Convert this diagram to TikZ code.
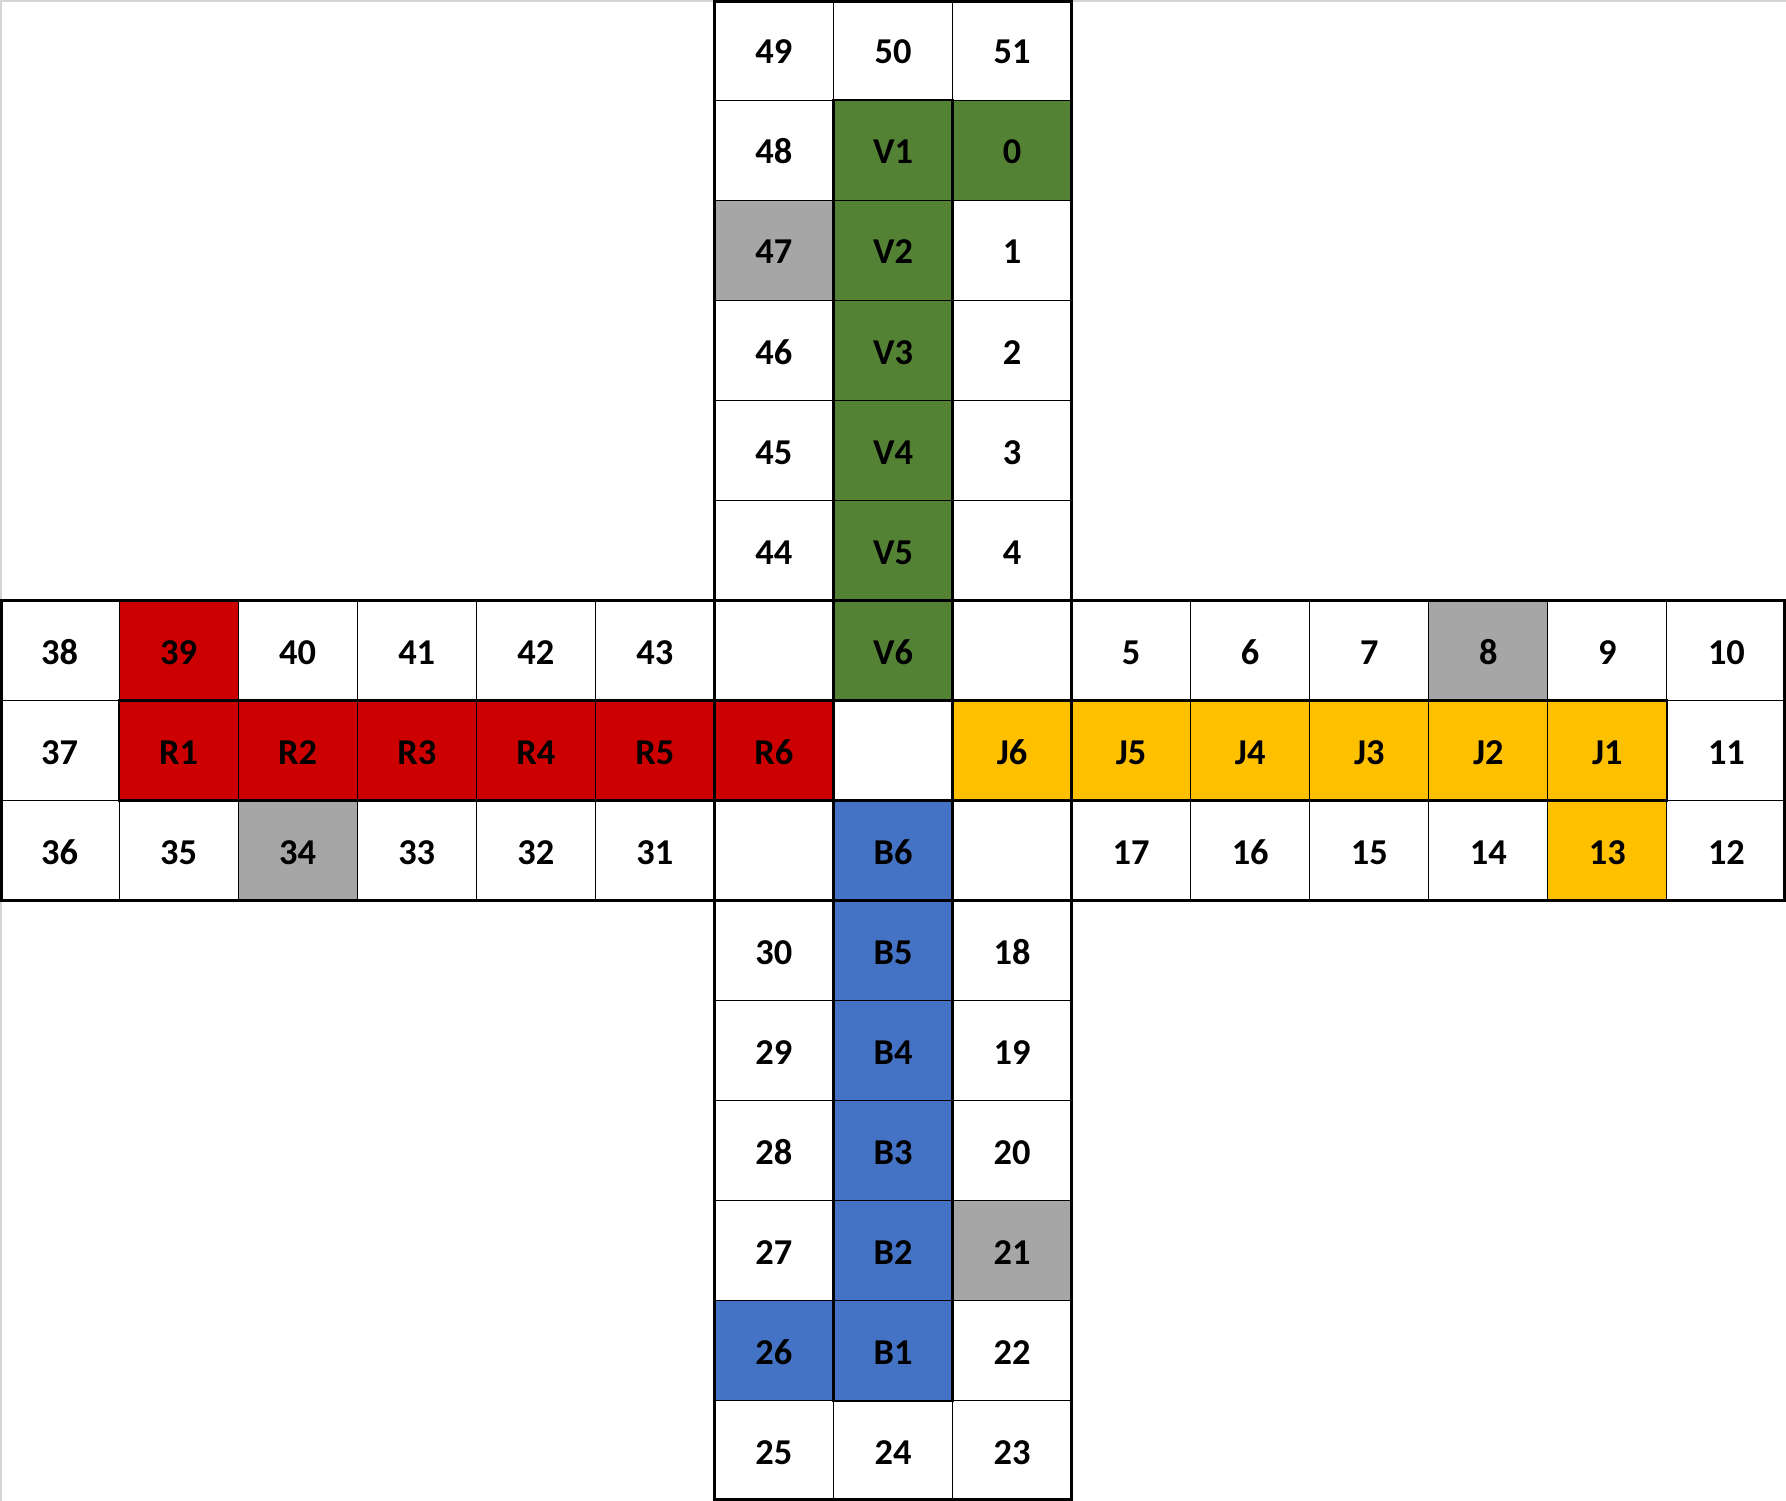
\documentclass[tikz,border=0pt]{standalone}
\usepackage{fontspec}
\setmainfont{Carlito}
\definecolor{vgreen}{HTML}{548235}
\definecolor{rred}{HTML}{CC0000}
\definecolor{jyellow}{HTML}{FFC000}
\definecolor{bblue}{HTML}{4472C4}
\definecolor{sgray}{HTML}{A6A6A6}
\definecolor{framegray}{HTML}{D4D4D4}
\newcommand{\lc}[4]{\node[cell,#3] (n#1-#2) at ({#2+0.5},{#1+0.5}) {#4};}
\begin{document}
\begin{tikzpicture}[x=59.533pt,y=-50.033pt,
  cell/.style={draw=black,line width=0.5pt,minimum width=59.533pt,minimum height=50.033pt,
    inner sep=0pt,outer sep=0pt,anchor=center,text height=13.8pt,text depth=0pt,
    font=\fontsize{18.2}{21}\selectfont\bfseries},
  wh/.style={fill=white},
  gn/.style={fill=vgreen},
  rd/.style={fill=rred},
  yl/.style={fill=jyellow},
  bl/.style={fill=bblue},
  gy/.style={fill=sgray},
  boldline/.style={draw=black,line width=1.4pt,line cap=rect}]
\useasboundingbox (0,0) rectangle (15,15);
\fill[white] (0,0) rectangle (15,15);
% top arm
\lc{0}{6}{wh}{49}\lc{0}{7}{wh}{50}\lc{0}{8}{wh}{51}
\lc{1}{6}{wh}{48}\lc{1}{7}{gn}{V1}\lc{1}{8}{gn}{0}
\lc{2}{6}{gy}{47}\lc{2}{7}{gn}{V2}\lc{2}{8}{wh}{1}
\lc{3}{6}{wh}{46}\lc{3}{7}{gn}{V3}\lc{3}{8}{wh}{2}
\lc{4}{6}{wh}{45}\lc{4}{7}{gn}{V4}\lc{4}{8}{wh}{3}
\lc{5}{6}{wh}{44}\lc{5}{7}{gn}{V5}\lc{5}{8}{wh}{4}
% row 6
\lc{6}{0}{wh}{38}\lc{6}{1}{rd}{39}\lc{6}{2}{wh}{40}\lc{6}{3}{wh}{41}\lc{6}{4}{wh}{42}\lc{6}{5}{wh}{43}
\lc{6}{6}{wh}{}\lc{6}{7}{gn}{V6}\lc{6}{8}{wh}{}
\lc{6}{9}{wh}{5}\lc{6}{10}{wh}{6}\lc{6}{11}{wh}{7}\lc{6}{12}{gy}{8}\lc{6}{13}{wh}{9}\lc{6}{14}{wh}{10}
% row 7
\lc{7}{0}{wh}{37}\lc{7}{1}{rd}{R1}\lc{7}{2}{rd}{R2}\lc{7}{3}{rd}{R3}\lc{7}{4}{rd}{R4}\lc{7}{5}{rd}{R5}\lc{7}{6}{rd}{R6}
\lc{7}{7}{wh}{}
\lc{7}{8}{yl}{J6}\lc{7}{9}{yl}{J5}\lc{7}{10}{yl}{J4}\lc{7}{11}{yl}{J3}\lc{7}{12}{yl}{J2}\lc{7}{13}{yl}{J1}\lc{7}{14}{wh}{11}
% row 8
\lc{8}{0}{wh}{36}\lc{8}{1}{wh}{35}\lc{8}{2}{gy}{34}\lc{8}{3}{wh}{33}\lc{8}{4}{wh}{32}\lc{8}{5}{wh}{31}
\lc{8}{6}{wh}{}\lc{8}{7}{bl}{B6}\lc{8}{8}{wh}{}
\lc{8}{9}{wh}{17}\lc{8}{10}{wh}{16}\lc{8}{11}{wh}{15}\lc{8}{12}{wh}{14}\lc{8}{13}{yl}{13}\lc{8}{14}{wh}{12}
% bottom arm
\lc{9}{6}{wh}{30}\lc{9}{7}{bl}{B5}\lc{9}{8}{wh}{18}
\lc{10}{6}{wh}{29}\lc{10}{7}{bl}{B4}\lc{10}{8}{wh}{19}
\lc{11}{6}{wh}{28}\lc{11}{7}{bl}{B3}\lc{11}{8}{wh}{20}
\lc{12}{6}{wh}{27}\lc{12}{7}{bl}{B2}\lc{12}{8}{gy}{21}
\lc{13}{6}{bl}{26}\lc{13}{7}{bl}{B1}\lc{13}{8}{wh}{22}
\lc{14}{6}{wh}{25}\lc{14}{7}{wh}{24}\lc{14}{8}{wh}{23}
% faint frame of the sheet
\draw[framegray,line width=1pt] (0,0.01) -- (15,0.01);
\draw[framegray,line width=1pt] (0.01,0) -- (0.01,15);
% bold lines
\draw[boldline] (6,0) -- (6,15);
\draw[boldline] (9,0) -- (9,15);
\draw[boldline] (0,6) -- (15,6);
\draw[boldline] (0,9) -- (15,9);
\draw[boldline] (6,0.015) -- (9,0.015);
\draw[boldline] (6,14.985) -- (9,14.985);
\draw[boldline] (0.012,6) -- (0.012,9);
\draw[boldline] (14.988,6) -- (14.988,9);
\draw[boldline] (7,6) -- (7,9);
\draw[boldline] (8,6) -- (8,9);
\draw[boldline] (6,7) -- (9,7);
\draw[boldline] (6,8) -- (9,8);
\draw[boldline] (7,1) rectangle (8,7);
\draw[boldline] (1,7) rectangle (7,8);
\draw[boldline] (8,7) rectangle (14,8);
\draw[boldline] (7,8) rectangle (8,14);
\end{tikzpicture}
\end{document}
